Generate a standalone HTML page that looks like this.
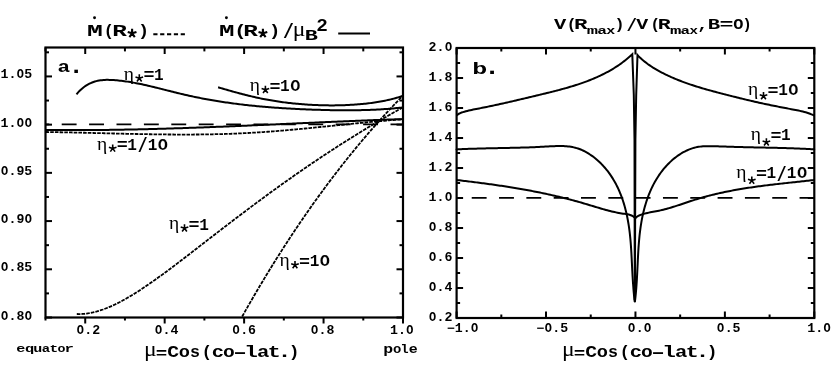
<!DOCTYPE html>
<html><head><meta charset="utf-8"><title>chart</title>
<style>
html,body{margin:0;padding:0;background:#fff;}
body{width:831px;height:370px;overflow:hidden;font-family:"Liberation Mono",monospace;}
svg{display:block;filter:grayscale(1);}
text{fill:#000;}
</style></head><body>
<svg width="831" height="370" viewBox="0 0 831 370">
<rect x="0" y="0" width="831" height="370" fill="#fff"/>
<rect x="45.5" y="47.5" width="357.5" height="270.0" fill="none" stroke="#000" stroke-width="2.2"/>
<line x1="45.50" y1="317.50" x2="52.00" y2="317.50" stroke="#000" stroke-width="2.0" />
<line x1="403.00" y1="317.50" x2="396.50" y2="317.50" stroke="#000" stroke-width="2.0" />
<line x1="45.50" y1="293.39" x2="49.00" y2="293.39" stroke="#000" stroke-width="2.0" />
<line x1="403.00" y1="293.39" x2="399.50" y2="293.39" stroke="#000" stroke-width="2.0" />
<line x1="45.50" y1="269.29" x2="52.00" y2="269.29" stroke="#000" stroke-width="2.0" />
<line x1="403.00" y1="269.29" x2="396.50" y2="269.29" stroke="#000" stroke-width="2.0" />
<line x1="45.50" y1="245.18" x2="49.00" y2="245.18" stroke="#000" stroke-width="2.0" />
<line x1="403.00" y1="245.18" x2="399.50" y2="245.18" stroke="#000" stroke-width="2.0" />
<line x1="45.50" y1="221.07" x2="52.00" y2="221.07" stroke="#000" stroke-width="2.0" />
<line x1="403.00" y1="221.07" x2="396.50" y2="221.07" stroke="#000" stroke-width="2.0" />
<line x1="45.50" y1="196.96" x2="49.00" y2="196.96" stroke="#000" stroke-width="2.0" />
<line x1="403.00" y1="196.96" x2="399.50" y2="196.96" stroke="#000" stroke-width="2.0" />
<line x1="45.50" y1="172.86" x2="52.00" y2="172.86" stroke="#000" stroke-width="2.0" />
<line x1="403.00" y1="172.86" x2="396.50" y2="172.86" stroke="#000" stroke-width="2.0" />
<line x1="45.50" y1="148.75" x2="49.00" y2="148.75" stroke="#000" stroke-width="2.0" />
<line x1="403.00" y1="148.75" x2="399.50" y2="148.75" stroke="#000" stroke-width="2.0" />
<line x1="45.50" y1="124.64" x2="52.00" y2="124.64" stroke="#000" stroke-width="2.0" />
<line x1="403.00" y1="124.64" x2="396.50" y2="124.64" stroke="#000" stroke-width="2.0" />
<line x1="45.50" y1="100.54" x2="49.00" y2="100.54" stroke="#000" stroke-width="2.0" />
<line x1="403.00" y1="100.54" x2="399.50" y2="100.54" stroke="#000" stroke-width="2.0" />
<line x1="45.50" y1="76.43" x2="52.00" y2="76.43" stroke="#000" stroke-width="2.0" />
<line x1="403.00" y1="76.43" x2="396.50" y2="76.43" stroke="#000" stroke-width="2.0" />
<line x1="45.50" y1="52.32" x2="49.00" y2="52.32" stroke="#000" stroke-width="2.0" />
<line x1="403.00" y1="52.32" x2="399.50" y2="52.32" stroke="#000" stroke-width="2.0" />
<line x1="45.50" y1="317.50" x2="45.50" y2="320.50" stroke="#000" stroke-width="2.0" />
<line x1="45.50" y1="47.50" x2="45.50" y2="51.40" stroke="#000" stroke-width="2.0" />
<line x1="85.22" y1="317.50" x2="85.22" y2="323.50" stroke="#000" stroke-width="2.0" />
<line x1="85.22" y1="47.50" x2="85.22" y2="54.00" stroke="#000" stroke-width="2.0" />
<line x1="124.94" y1="317.50" x2="124.94" y2="320.50" stroke="#000" stroke-width="2.0" />
<line x1="124.94" y1="47.50" x2="124.94" y2="51.40" stroke="#000" stroke-width="2.0" />
<line x1="164.67" y1="317.50" x2="164.67" y2="323.50" stroke="#000" stroke-width="2.0" />
<line x1="164.67" y1="47.50" x2="164.67" y2="54.00" stroke="#000" stroke-width="2.0" />
<line x1="204.39" y1="317.50" x2="204.39" y2="320.50" stroke="#000" stroke-width="2.0" />
<line x1="204.39" y1="47.50" x2="204.39" y2="51.40" stroke="#000" stroke-width="2.0" />
<line x1="244.11" y1="317.50" x2="244.11" y2="323.50" stroke="#000" stroke-width="2.0" />
<line x1="244.11" y1="47.50" x2="244.11" y2="54.00" stroke="#000" stroke-width="2.0" />
<line x1="283.83" y1="317.50" x2="283.83" y2="320.50" stroke="#000" stroke-width="2.0" />
<line x1="283.83" y1="47.50" x2="283.83" y2="51.40" stroke="#000" stroke-width="2.0" />
<line x1="323.56" y1="317.50" x2="323.56" y2="323.50" stroke="#000" stroke-width="2.0" />
<line x1="323.56" y1="47.50" x2="323.56" y2="54.00" stroke="#000" stroke-width="2.0" />
<line x1="363.28" y1="317.50" x2="363.28" y2="320.50" stroke="#000" stroke-width="2.0" />
<line x1="363.28" y1="47.50" x2="363.28" y2="51.40" stroke="#000" stroke-width="2.0" />
<line x1="403.00" y1="317.50" x2="403.00" y2="323.50" stroke="#000" stroke-width="2.0" />
<line x1="403.00" y1="47.50" x2="403.00" y2="54.00" stroke="#000" stroke-width="2.0" />
<rect x="456.6" y="48.0" width="357.69999999999993" height="270.0" fill="none" stroke="#000" stroke-width="2.2"/>
<line x1="456.60" y1="318.00" x2="463.10" y2="318.00" stroke="#000" stroke-width="2.0" />
<line x1="814.30" y1="318.00" x2="807.80" y2="318.00" stroke="#000" stroke-width="2.0" />
<line x1="456.60" y1="303.00" x2="460.10" y2="303.00" stroke="#000" stroke-width="2.0" />
<line x1="814.30" y1="303.00" x2="810.80" y2="303.00" stroke="#000" stroke-width="2.0" />
<line x1="456.60" y1="288.00" x2="463.10" y2="288.00" stroke="#000" stroke-width="2.0" />
<line x1="814.30" y1="288.00" x2="807.80" y2="288.00" stroke="#000" stroke-width="2.0" />
<line x1="456.60" y1="273.00" x2="460.10" y2="273.00" stroke="#000" stroke-width="2.0" />
<line x1="814.30" y1="273.00" x2="810.80" y2="273.00" stroke="#000" stroke-width="2.0" />
<line x1="456.60" y1="258.00" x2="463.10" y2="258.00" stroke="#000" stroke-width="2.0" />
<line x1="814.30" y1="258.00" x2="807.80" y2="258.00" stroke="#000" stroke-width="2.0" />
<line x1="456.60" y1="243.00" x2="460.10" y2="243.00" stroke="#000" stroke-width="2.0" />
<line x1="814.30" y1="243.00" x2="810.80" y2="243.00" stroke="#000" stroke-width="2.0" />
<line x1="456.60" y1="228.00" x2="463.10" y2="228.00" stroke="#000" stroke-width="2.0" />
<line x1="814.30" y1="228.00" x2="807.80" y2="228.00" stroke="#000" stroke-width="2.0" />
<line x1="456.60" y1="213.00" x2="460.10" y2="213.00" stroke="#000" stroke-width="2.0" />
<line x1="814.30" y1="213.00" x2="810.80" y2="213.00" stroke="#000" stroke-width="2.0" />
<line x1="456.60" y1="198.00" x2="463.10" y2="198.00" stroke="#000" stroke-width="2.0" />
<line x1="814.30" y1="198.00" x2="807.80" y2="198.00" stroke="#000" stroke-width="2.0" />
<line x1="456.60" y1="183.00" x2="460.10" y2="183.00" stroke="#000" stroke-width="2.0" />
<line x1="814.30" y1="183.00" x2="810.80" y2="183.00" stroke="#000" stroke-width="2.0" />
<line x1="456.60" y1="168.00" x2="463.10" y2="168.00" stroke="#000" stroke-width="2.0" />
<line x1="814.30" y1="168.00" x2="807.80" y2="168.00" stroke="#000" stroke-width="2.0" />
<line x1="456.60" y1="153.00" x2="460.10" y2="153.00" stroke="#000" stroke-width="2.0" />
<line x1="814.30" y1="153.00" x2="810.80" y2="153.00" stroke="#000" stroke-width="2.0" />
<line x1="456.60" y1="138.00" x2="463.10" y2="138.00" stroke="#000" stroke-width="2.0" />
<line x1="814.30" y1="138.00" x2="807.80" y2="138.00" stroke="#000" stroke-width="2.0" />
<line x1="456.60" y1="123.00" x2="460.10" y2="123.00" stroke="#000" stroke-width="2.0" />
<line x1="814.30" y1="123.00" x2="810.80" y2="123.00" stroke="#000" stroke-width="2.0" />
<line x1="456.60" y1="108.00" x2="463.10" y2="108.00" stroke="#000" stroke-width="2.0" />
<line x1="814.30" y1="108.00" x2="807.80" y2="108.00" stroke="#000" stroke-width="2.0" />
<line x1="456.60" y1="93.00" x2="460.10" y2="93.00" stroke="#000" stroke-width="2.0" />
<line x1="814.30" y1="93.00" x2="810.80" y2="93.00" stroke="#000" stroke-width="2.0" />
<line x1="456.60" y1="78.00" x2="463.10" y2="78.00" stroke="#000" stroke-width="2.0" />
<line x1="814.30" y1="78.00" x2="807.80" y2="78.00" stroke="#000" stroke-width="2.0" />
<line x1="456.60" y1="63.00" x2="460.10" y2="63.00" stroke="#000" stroke-width="2.0" />
<line x1="814.30" y1="63.00" x2="810.80" y2="63.00" stroke="#000" stroke-width="2.0" />
<line x1="456.60" y1="48.00" x2="463.10" y2="48.00" stroke="#000" stroke-width="2.0" />
<line x1="814.30" y1="48.00" x2="807.80" y2="48.00" stroke="#000" stroke-width="2.0" />
<line x1="456.60" y1="318.00" x2="456.60" y2="311.50" stroke="#000" stroke-width="2.0" />
<line x1="456.60" y1="48.00" x2="456.60" y2="54.50" stroke="#000" stroke-width="2.0" />
<line x1="501.31" y1="318.00" x2="501.31" y2="314.50" stroke="#000" stroke-width="2.0" />
<line x1="501.31" y1="48.00" x2="501.31" y2="51.50" stroke="#000" stroke-width="2.0" />
<line x1="546.02" y1="318.00" x2="546.02" y2="311.50" stroke="#000" stroke-width="2.0" />
<line x1="546.02" y1="48.00" x2="546.02" y2="54.50" stroke="#000" stroke-width="2.0" />
<line x1="590.74" y1="318.00" x2="590.74" y2="314.50" stroke="#000" stroke-width="2.0" />
<line x1="590.74" y1="48.00" x2="590.74" y2="51.50" stroke="#000" stroke-width="2.0" />
<line x1="635.45" y1="318.00" x2="635.45" y2="311.50" stroke="#000" stroke-width="2.0" />
<line x1="635.45" y1="48.00" x2="635.45" y2="54.50" stroke="#000" stroke-width="2.0" />
<line x1="680.16" y1="318.00" x2="680.16" y2="314.50" stroke="#000" stroke-width="2.0" />
<line x1="680.16" y1="48.00" x2="680.16" y2="51.50" stroke="#000" stroke-width="2.0" />
<line x1="724.88" y1="318.00" x2="724.88" y2="311.50" stroke="#000" stroke-width="2.0" />
<line x1="724.88" y1="48.00" x2="724.88" y2="54.50" stroke="#000" stroke-width="2.0" />
<line x1="769.59" y1="318.00" x2="769.59" y2="314.50" stroke="#000" stroke-width="2.0" />
<line x1="769.59" y1="48.00" x2="769.59" y2="51.50" stroke="#000" stroke-width="2.0" />
<line x1="814.30" y1="318.00" x2="814.30" y2="311.50" stroke="#000" stroke-width="2.0" />
<line x1="814.30" y1="48.00" x2="814.30" y2="54.50" stroke="#000" stroke-width="2.0" />
<text transform="translate(0.50,78.43) scale(1.104,1)" font-family='"Liberation Mono", monospace' font-size="12" font-weight="bold">1</text>
<text transform="translate(8.45,78.43) scale(1.104,1)" font-family='"Liberation Mono", monospace' font-size="12" font-weight="bold">.</text>
<text transform="translate(16.80,78.43) scale(0.994,1)" font-family='"Liberation Mono", monospace' font-size="12" font-weight="bold">O</text>
<text transform="translate(24.35,78.43) scale(1.104,1)" font-family='"Liberation Mono", monospace' font-size="12" font-weight="bold">5</text>
<text transform="translate(0.50,126.64) scale(1.104,1)" font-family='"Liberation Mono", monospace' font-size="12" font-weight="bold">1</text>
<text transform="translate(8.45,126.64) scale(1.104,1)" font-family='"Liberation Mono", monospace' font-size="12" font-weight="bold">.</text>
<text transform="translate(16.80,126.64) scale(0.994,1)" font-family='"Liberation Mono", monospace' font-size="12" font-weight="bold">O</text>
<text transform="translate(24.75,126.64) scale(0.994,1)" font-family='"Liberation Mono", monospace' font-size="12" font-weight="bold">O</text>
<text transform="translate(0.90,174.86) scale(0.994,1)" font-family='"Liberation Mono", monospace' font-size="12" font-weight="bold">O</text>
<text transform="translate(8.45,174.86) scale(1.104,1)" font-family='"Liberation Mono", monospace' font-size="12" font-weight="bold">.</text>
<text transform="translate(16.40,174.86) scale(1.104,1)" font-family='"Liberation Mono", monospace' font-size="12" font-weight="bold">9</text>
<text transform="translate(24.35,174.86) scale(1.104,1)" font-family='"Liberation Mono", monospace' font-size="12" font-weight="bold">5</text>
<text transform="translate(0.90,223.07) scale(0.994,1)" font-family='"Liberation Mono", monospace' font-size="12" font-weight="bold">O</text>
<text transform="translate(8.45,223.07) scale(1.104,1)" font-family='"Liberation Mono", monospace' font-size="12" font-weight="bold">.</text>
<text transform="translate(16.40,223.07) scale(1.104,1)" font-family='"Liberation Mono", monospace' font-size="12" font-weight="bold">9</text>
<text transform="translate(24.75,223.07) scale(0.994,1)" font-family='"Liberation Mono", monospace' font-size="12" font-weight="bold">O</text>
<text transform="translate(0.90,271.29) scale(0.994,1)" font-family='"Liberation Mono", monospace' font-size="12" font-weight="bold">O</text>
<text transform="translate(8.45,271.29) scale(1.104,1)" font-family='"Liberation Mono", monospace' font-size="12" font-weight="bold">.</text>
<text transform="translate(16.40,271.29) scale(1.104,1)" font-family='"Liberation Mono", monospace' font-size="12" font-weight="bold">8</text>
<text transform="translate(24.35,271.29) scale(1.104,1)" font-family='"Liberation Mono", monospace' font-size="12" font-weight="bold">5</text>
<text transform="translate(0.90,319.50) scale(0.994,1)" font-family='"Liberation Mono", monospace' font-size="12" font-weight="bold">O</text>
<text transform="translate(8.45,319.50) scale(1.104,1)" font-family='"Liberation Mono", monospace' font-size="12" font-weight="bold">.</text>
<text transform="translate(16.40,319.50) scale(1.104,1)" font-family='"Liberation Mono", monospace' font-size="12" font-weight="bold">8</text>
<text transform="translate(24.75,319.50) scale(0.994,1)" font-family='"Liberation Mono", monospace' font-size="12" font-weight="bold">O</text>
<text transform="translate(76.80,334.20) scale(0.994,1)" font-family='"Liberation Mono", monospace' font-size="12" font-weight="bold">O</text>
<text transform="translate(84.35,334.20) scale(1.104,1)" font-family='"Liberation Mono", monospace' font-size="12" font-weight="bold">.</text>
<text transform="translate(92.30,334.20) scale(1.104,1)" font-family='"Liberation Mono", monospace' font-size="12" font-weight="bold">2</text>
<text transform="translate(155.00,334.20) scale(0.994,1)" font-family='"Liberation Mono", monospace' font-size="12" font-weight="bold">O</text>
<text transform="translate(162.55,334.20) scale(1.104,1)" font-family='"Liberation Mono", monospace' font-size="12" font-weight="bold">.</text>
<text transform="translate(170.50,334.20) scale(1.104,1)" font-family='"Liberation Mono", monospace' font-size="12" font-weight="bold">4</text>
<text transform="translate(232.60,334.20) scale(0.994,1)" font-family='"Liberation Mono", monospace' font-size="12" font-weight="bold">O</text>
<text transform="translate(240.15,334.20) scale(1.104,1)" font-family='"Liberation Mono", monospace' font-size="12" font-weight="bold">.</text>
<text transform="translate(248.10,334.20) scale(1.104,1)" font-family='"Liberation Mono", monospace' font-size="12" font-weight="bold">6</text>
<text transform="translate(311.00,334.20) scale(0.994,1)" font-family='"Liberation Mono", monospace' font-size="12" font-weight="bold">O</text>
<text transform="translate(318.55,334.20) scale(1.104,1)" font-family='"Liberation Mono", monospace' font-size="12" font-weight="bold">.</text>
<text transform="translate(326.50,334.20) scale(1.104,1)" font-family='"Liberation Mono", monospace' font-size="12" font-weight="bold">8</text>
<text transform="translate(390.00,334.20) scale(1.104,1)" font-family='"Liberation Mono", monospace' font-size="12" font-weight="bold">1</text>
<text transform="translate(397.95,334.20) scale(1.104,1)" font-family='"Liberation Mono", monospace' font-size="12" font-weight="bold">.</text>
<text transform="translate(406.30,334.20) scale(0.994,1)" font-family='"Liberation Mono", monospace' font-size="12" font-weight="bold">O</text>
<text transform="translate(428.60,51.00) scale(1.104,1)" font-family='"Liberation Mono", monospace' font-size="12" font-weight="bold">2</text>
<text transform="translate(436.55,51.00) scale(1.104,1)" font-family='"Liberation Mono", monospace' font-size="12" font-weight="bold">.</text>
<text transform="translate(444.90,51.00) scale(0.994,1)" font-family='"Liberation Mono", monospace' font-size="12" font-weight="bold">O</text>
<text transform="translate(428.60,81.00) scale(1.104,1)" font-family='"Liberation Mono", monospace' font-size="12" font-weight="bold" text-anchor="start">1.8</text>
<text transform="translate(428.60,111.00) scale(1.104,1)" font-family='"Liberation Mono", monospace' font-size="12" font-weight="bold" text-anchor="start">1.6</text>
<text transform="translate(428.60,141.00) scale(1.104,1)" font-family='"Liberation Mono", monospace' font-size="12" font-weight="bold" text-anchor="start">1.4</text>
<text transform="translate(428.60,171.00) scale(1.104,1)" font-family='"Liberation Mono", monospace' font-size="12" font-weight="bold" text-anchor="start">1.2</text>
<text transform="translate(428.60,201.00) scale(1.104,1)" font-family='"Liberation Mono", monospace' font-size="12" font-weight="bold">1</text>
<text transform="translate(436.55,201.00) scale(1.104,1)" font-family='"Liberation Mono", monospace' font-size="12" font-weight="bold">.</text>
<text transform="translate(444.90,201.00) scale(0.994,1)" font-family='"Liberation Mono", monospace' font-size="12" font-weight="bold">O</text>
<text transform="translate(429.00,231.00) scale(0.994,1)" font-family='"Liberation Mono", monospace' font-size="12" font-weight="bold">O</text>
<text transform="translate(436.55,231.00) scale(1.104,1)" font-family='"Liberation Mono", monospace' font-size="12" font-weight="bold">.</text>
<text transform="translate(444.50,231.00) scale(1.104,1)" font-family='"Liberation Mono", monospace' font-size="12" font-weight="bold">8</text>
<text transform="translate(429.00,261.00) scale(0.994,1)" font-family='"Liberation Mono", monospace' font-size="12" font-weight="bold">O</text>
<text transform="translate(436.55,261.00) scale(1.104,1)" font-family='"Liberation Mono", monospace' font-size="12" font-weight="bold">.</text>
<text transform="translate(444.50,261.00) scale(1.104,1)" font-family='"Liberation Mono", monospace' font-size="12" font-weight="bold">6</text>
<text transform="translate(429.00,291.00) scale(0.994,1)" font-family='"Liberation Mono", monospace' font-size="12" font-weight="bold">O</text>
<text transform="translate(436.55,291.00) scale(1.104,1)" font-family='"Liberation Mono", monospace' font-size="12" font-weight="bold">.</text>
<text transform="translate(444.50,291.00) scale(1.104,1)" font-family='"Liberation Mono", monospace' font-size="12" font-weight="bold">4</text>
<text transform="translate(429.00,321.00) scale(0.994,1)" font-family='"Liberation Mono", monospace' font-size="12" font-weight="bold">O</text>
<text transform="translate(436.55,321.00) scale(1.104,1)" font-family='"Liberation Mono", monospace' font-size="12" font-weight="bold">.</text>
<text transform="translate(444.50,321.00) scale(1.104,1)" font-family='"Liberation Mono", monospace' font-size="12" font-weight="bold">2</text>
<text transform="translate(446.80,332.20) scale(1.104,1)" font-family='"Liberation Mono", monospace' font-size="12" font-weight="bold">−</text>
<text transform="translate(454.75,332.20) scale(1.104,1)" font-family='"Liberation Mono", monospace' font-size="12" font-weight="bold">1</text>
<text transform="translate(462.70,332.20) scale(1.104,1)" font-family='"Liberation Mono", monospace' font-size="12" font-weight="bold">.</text>
<text transform="translate(471.05,332.20) scale(0.994,1)" font-family='"Liberation Mono", monospace' font-size="12" font-weight="bold">O</text>
<text transform="translate(536.30,332.20) scale(1.104,1)" font-family='"Liberation Mono", monospace' font-size="12" font-weight="bold">−</text>
<text transform="translate(544.65,332.20) scale(0.994,1)" font-family='"Liberation Mono", monospace' font-size="12" font-weight="bold">O</text>
<text transform="translate(552.20,332.20) scale(1.104,1)" font-family='"Liberation Mono", monospace' font-size="12" font-weight="bold">.</text>
<text transform="translate(560.15,332.20) scale(1.104,1)" font-family='"Liberation Mono", monospace' font-size="12" font-weight="bold">5</text>
<text transform="translate(628.10,332.20) scale(0.994,1)" font-family='"Liberation Mono", monospace' font-size="12" font-weight="bold">O</text>
<text transform="translate(635.65,332.20) scale(1.104,1)" font-family='"Liberation Mono", monospace' font-size="12" font-weight="bold">.</text>
<text transform="translate(644.00,332.20) scale(0.994,1)" font-family='"Liberation Mono", monospace' font-size="12" font-weight="bold">O</text>
<text transform="translate(717.10,332.20) scale(0.994,1)" font-family='"Liberation Mono", monospace' font-size="12" font-weight="bold">O</text>
<text transform="translate(724.65,332.20) scale(1.104,1)" font-family='"Liberation Mono", monospace' font-size="12" font-weight="bold">.</text>
<text transform="translate(732.60,332.20) scale(1.104,1)" font-family='"Liberation Mono", monospace' font-size="12" font-weight="bold">5</text>
<text transform="translate(807.20,332.20) scale(1.104,1)" font-family='"Liberation Mono", monospace' font-size="12" font-weight="bold">1</text>
<text transform="translate(815.15,332.20) scale(1.104,1)" font-family='"Liberation Mono", monospace' font-size="12" font-weight="bold">.</text>
<text transform="translate(823.50,332.20) scale(0.994,1)" font-family='"Liberation Mono", monospace' font-size="12" font-weight="bold">O</text>
<text transform="translate(143.88,356.40) scale(1.183,1.0)" font-family='"Liberation Serif", serif' font-size="20" font-weight="normal">μ</text>
<text transform="translate(155.66,358.13) scale(0.957,0.714)" font-family='"Liberation Mono", monospace' font-size="20.0" font-weight="bold">=</text>
<text transform="translate(167.23,356.70) scale(1.231,1.0)" font-family='"Liberation Mono", monospace' font-size="16.0" font-weight="bold">C</text>
<text transform="translate(178.76,356.70) scale(1.164,1.0)" font-family='"Liberation Mono", monospace' font-size="16.0" font-weight="bold">o</text>
<text transform="translate(190.02,356.70) scale(1.042,1.0)" font-family='"Liberation Mono", monospace' font-size="16.0" font-weight="bold">s</text>
<text transform="translate(201.84,356.70) scale(1.063,1.0)" font-family='"Liberation Mono", monospace' font-size="16.0" font-weight="bold">(</text>
<text transform="translate(211.80,356.70) scale(1.281,1.0)" font-family='"Liberation Mono", monospace' font-size="16.0" font-weight="bold">c</text>
<text transform="translate(223.12,356.70) scale(1.225,1.0)" font-family='"Liberation Mono", monospace' font-size="16.0" font-weight="bold">o</text>
<text transform="translate(233.21,357.91) scale(1.133,0.958)" font-family='"Liberation Mono", monospace' font-size="20.0" font-weight="bold">–</text>
<text transform="translate(244.14,356.70) scale(1.413,1.0)" font-family='"Liberation Mono", monospace' font-size="16.0" font-weight="bold">l</text>
<text transform="translate(256.93,356.70) scale(1.290,1.0)" font-family='"Liberation Mono", monospace' font-size="16.0" font-weight="bold">a</text>
<text transform="translate(267.71,356.70) scale(1.347,1.0)" font-family='"Liberation Mono", monospace' font-size="16.0" font-weight="bold">t</text>
<text transform="translate(277.43,356.70) scale(1.462,1.0)" font-family='"Liberation Mono", monospace' font-size="16.0" font-weight="bold">.</text>
<text transform="translate(288.74,356.70) scale(1.107,1.0)" font-family='"Liberation Mono", monospace' font-size="16.0" font-weight="bold">)</text>
<text transform="translate(561.88,356.40) scale(1.183,1.0)" font-family='"Liberation Serif", serif' font-size="20" font-weight="normal">μ</text>
<text transform="translate(573.66,358.13) scale(0.957,0.714)" font-family='"Liberation Mono", monospace' font-size="20.0" font-weight="bold">=</text>
<text transform="translate(585.23,356.70) scale(1.231,1.0)" font-family='"Liberation Mono", monospace' font-size="16.0" font-weight="bold">C</text>
<text transform="translate(596.76,356.70) scale(1.164,1.0)" font-family='"Liberation Mono", monospace' font-size="16.0" font-weight="bold">o</text>
<text transform="translate(608.02,356.70) scale(1.042,1.0)" font-family='"Liberation Mono", monospace' font-size="16.0" font-weight="bold">s</text>
<text transform="translate(619.84,356.70) scale(1.063,1.0)" font-family='"Liberation Mono", monospace' font-size="16.0" font-weight="bold">(</text>
<text transform="translate(629.80,356.70) scale(1.281,1.0)" font-family='"Liberation Mono", monospace' font-size="16.0" font-weight="bold">c</text>
<text transform="translate(641.12,356.70) scale(1.225,1.0)" font-family='"Liberation Mono", monospace' font-size="16.0" font-weight="bold">o</text>
<text transform="translate(651.21,357.91) scale(1.133,0.958)" font-family='"Liberation Mono", monospace' font-size="20.0" font-weight="bold">–</text>
<text transform="translate(662.14,356.70) scale(1.413,1.0)" font-family='"Liberation Mono", monospace' font-size="16.0" font-weight="bold">l</text>
<text transform="translate(674.93,356.70) scale(1.290,1.0)" font-family='"Liberation Mono", monospace' font-size="16.0" font-weight="bold">a</text>
<text transform="translate(685.71,356.70) scale(1.347,1.0)" font-family='"Liberation Mono", monospace' font-size="16.0" font-weight="bold">t</text>
<text transform="translate(695.43,356.70) scale(1.462,1.0)" font-family='"Liberation Mono", monospace' font-size="16.0" font-weight="bold">.</text>
<text transform="translate(706.74,356.70) scale(1.107,1.0)" font-family='"Liberation Mono", monospace' font-size="16.0" font-weight="bold">)</text>
<text transform="translate(16.26,351.80) scale(1.293,1.0)" font-family='"Liberation Mono", monospace' font-size="11.7" font-weight="bold">e</text>
<text transform="translate(25.07,351.80) scale(1.323,1.0)" font-family='"Liberation Mono", monospace' font-size="11.7" font-weight="bold">q</text>
<text transform="translate(33.20,351.80) scale(1.291,1.0)" font-family='"Liberation Mono", monospace' font-size="11.7" font-weight="bold">u</text>
<text transform="translate(41.78,351.80) scale(1.192,1.0)" font-family='"Liberation Mono", monospace' font-size="11.7" font-weight="bold">a</text>
<text transform="translate(49.46,351.80) scale(1.242,1.0)" font-family='"Liberation Mono", monospace' font-size="11.7" font-weight="bold">t</text>
<text transform="translate(57.40,351.80) scale(1.139,1.0)" font-family='"Liberation Mono", monospace' font-size="11.7" font-weight="bold">o</text>
<text transform="translate(64.48,351.80) scale(1.348,1.0)" font-family='"Liberation Mono", monospace' font-size="11.7" font-weight="bold">r</text>
<text transform="translate(383.27,353.00) scale(1.354,1.0)" font-family='"Liberation Mono", monospace' font-size="12.2" font-weight="bold">p</text>
<text transform="translate(392.97,353.00) scale(1.141,1.0)" font-family='"Liberation Mono", monospace' font-size="12.2" font-weight="bold">o</text>
<text transform="translate(400.53,353.00) scale(1.108,1.0)" font-family='"Liberation Mono", monospace' font-size="12.2" font-weight="bold">l</text>
<text transform="translate(408.67,353.00) scale(1.224,1.0)" font-family='"Liberation Mono", monospace' font-size="12.2" font-weight="bold">e</text>
<text transform="translate(87.02,35.90) scale(1.527,1.0)" font-family='"Liberation Mono", monospace' font-size="17.3" font-weight="bold">M</text>
<circle cx="94.55" cy="17.7" r="1.45" fill="#000"/>
<text transform="translate(103.64,35.90) scale(0.983,1.0)" font-family='"Liberation Mono", monospace' font-size="17.3" font-weight="bold">(</text>
<text transform="translate(112.27,35.90) scale(1.412,1.0)" font-family='"Liberation Mono", monospace' font-size="17.3" font-weight="bold">R</text>
<path d="M132.10,33.30 L132.10,28.70 M132.10,33.30 L136.47,31.88 M132.10,33.30 L134.80,37.02 M132.10,33.30 L129.40,37.02 M132.10,33.30 L127.73,31.88 " fill="none" stroke="#000" stroke-width="2.1" stroke-linecap="butt"/>
<text transform="translate(137.94,35.90) scale(1.065,1.0)" font-family='"Liberation Mono", monospace' font-size="17.3" font-weight="bold">)</text>
<line x1="153.30" y1="34.20" x2="184.90" y2="34.20" stroke="#000" stroke-width="2.1" stroke-dasharray="4.2 2.65" />
<text transform="translate(219.05,35.90) scale(1.493,1.0)" font-family='"Liberation Mono", monospace' font-size="17.3" font-weight="bold">M</text>
<circle cx="226.40" cy="17.7" r="1.45" fill="#000"/>
<text transform="translate(234.15,35.90) scale(1.188,1.0)" font-family='"Liberation Mono", monospace' font-size="17.3" font-weight="bold">(</text>
<text transform="translate(243.17,35.90) scale(1.412,1.0)" font-family='"Liberation Mono", monospace' font-size="17.3" font-weight="bold">R</text>
<path d="M262.90,33.30 L262.90,28.70 M262.90,33.30 L267.27,31.88 M262.90,33.30 L265.60,37.02 M262.90,33.30 L260.20,37.02 M262.90,33.30 L258.53,31.88 " fill="none" stroke="#000" stroke-width="2.1" stroke-linecap="butt"/>
<text transform="translate(268.98,35.90) scale(1.086,1.0)" font-family='"Liberation Mono", monospace' font-size="17.3" font-weight="bold">)</text>
<text transform="translate(282.91,38.10) scale(0.908,1.042)" font-family='"Liberation Mono", monospace' font-size="20.0" font-weight="bold">/</text>
<text transform="translate(292.78,35.90) scale(1.155,1.0)" font-family='"Liberation Serif", serif' font-size="20.5" font-weight="normal">μ</text>
<text transform="translate(304.74,40.20) scale(1.498,1.0)" font-family='"Liberation Mono", monospace' font-size="14.6" font-weight="bold">B</text>
<text transform="translate(316.63,30.50) scale(1.207,1.0)" font-family='"Liberation Sans", sans-serif' font-size="16" font-weight="bold">2</text>
<line x1="338.20" y1="33.50" x2="370.00" y2="33.50" stroke="#000" stroke-width="2.0" />
<text transform="translate(553.97,28.50) scale(1.361,1.0)" font-family='"Liberation Mono", monospace' font-size="15.0" font-weight="bold">V</text>
<text transform="translate(566.76,28.50) scale(1.087,1.0)" font-family='"Liberation Mono", monospace' font-size="15.0" font-weight="bold">(</text>
<text transform="translate(573.89,28.50) scale(1.503,1.0)" font-family='"Liberation Mono", monospace' font-size="15.0" font-weight="bold">R</text>
<text transform="translate(614.60,28.50) scale(1.110,1.0)" font-family='"Liberation Mono", monospace' font-size="15.0" font-weight="bold">)</text>
<text transform="translate(636.27,28.50) scale(1.327,1.0)" font-family='"Liberation Mono", monospace' font-size="15.0" font-weight="bold">V</text>
<text transform="translate(650.52,28.50) scale(1.063,1.0)" font-family='"Liberation Mono", monospace' font-size="15.0" font-weight="bold">(</text>
<text transform="translate(657.85,28.50) scale(1.440,1.0)" font-family='"Liberation Mono", monospace' font-size="15.0" font-weight="bold">R</text>
<text transform="translate(697.21,28.50) scale(1.213,1.0)" font-family='"Liberation Mono", monospace' font-size="15.0" font-weight="bold">,</text>
<text transform="translate(707.82,28.50) scale(1.380,1.0)" font-family='"Liberation Mono", monospace' font-size="15.0" font-weight="bold">B</text>
<text transform="translate(719.55,28.50) scale(1.555,1.0)" font-family='"Liberation Mono", monospace' font-size="15.0" font-weight="bold">=</text>
<text transform="translate(733.30,28.50) scale(1.133,1.0)" font-family='"Liberation Mono", monospace' font-size="15.0" font-weight="bold">O</text>
<text transform="translate(742.62,28.50) scale(1.016,1.0)" font-family='"Liberation Mono", monospace' font-size="15.0" font-weight="bold">)</text>
<text transform="translate(626.44,31.02) scale(0.879,0.946)" font-family='"Liberation Mono", monospace' font-size="20.0" font-weight="bold">/</text>
<text transform="translate(586.66,33.60) scale(1.600,1.0)" font-family='"Liberation Mono", monospace' font-size="11.8" font-weight="bold">m</text>
<text transform="translate(597.16,33.60) scale(1.376,1.0)" font-family='"Liberation Mono", monospace' font-size="11.8" font-weight="bold">a</text>
<text transform="translate(606.34,33.60) scale(1.275,1.0)" font-family='"Liberation Mono", monospace' font-size="11.8" font-weight="bold">x</text>
<text transform="translate(669.96,33.60) scale(1.616,1.0)" font-family='"Liberation Mono", monospace' font-size="11.8" font-weight="bold">m</text>
<text transform="translate(680.58,33.60) scale(1.344,1.0)" font-family='"Liberation Mono", monospace' font-size="11.8" font-weight="bold">a</text>
<text transform="translate(689.56,33.60) scale(1.198,1.0)" font-family='"Liberation Mono", monospace' font-size="11.8" font-weight="bold">x</text>
<text transform="translate(57.51,72.34) scale(1.051,0.821)" font-family='"Liberation Mono", monospace' font-size="20.0" font-weight="bold">a</text>
<text transform="translate(68.55,73.30) scale(1.276,1.142)" font-family='"Liberation Mono", monospace' font-size="20.0" font-weight="bold">.</text>
<text transform="translate(472.19,74.34) scale(1.249,0.831)" font-family='"Liberation Mono", monospace' font-size="20.0" font-weight="bold">b</text>
<text transform="translate(484.02,74.40) scale(1.346,1.142)" font-family='"Liberation Mono", monospace' font-size="20.0" font-weight="bold">.</text>
<text transform="translate(123.69,79.50) scale(1.035,1)" font-family='"Liberation Serif", serif' font-size="18.89">η</text>
<path d="M139.30,78.30 L139.30,74.30 M139.30,78.30 L143.10,77.06 M139.30,78.30 L141.65,81.54 M139.30,78.30 L136.95,81.54 M139.30,78.30 L135.50,77.06 " fill="none" stroke="#000" stroke-width="1.6" stroke-linecap="butt"/>
<text transform="translate(143.40,80.16) scale(0.917,0.794)" font-family='"Liberation Mono", monospace' font-size="20.0" font-weight="bold">=</text>
<text transform="translate(153.96,79.60) scale(0.806,0.805)" font-family='"Liberation Mono", monospace' font-size="20.0" font-weight="bold" stroke="#fff" stroke-width="0.07">1</text>
<text transform="translate(249.79,91.00) scale(1.035,1)" font-family='"Liberation Serif", serif' font-size="18.89">η</text>
<path d="M265.40,89.80 L265.40,85.80 M265.40,89.80 L269.20,88.56 M265.40,89.80 L267.75,93.04 M265.40,89.80 L263.05,93.04 M265.40,89.80 L261.60,88.56 " fill="none" stroke="#000" stroke-width="1.6" stroke-linecap="butt"/>
<text transform="translate(269.50,91.66) scale(0.917,0.794)" font-family='"Liberation Mono", monospace' font-size="20.0" font-weight="bold">=</text>
<text transform="translate(280.06,91.10) scale(0.806,0.805)" font-family='"Liberation Mono", monospace' font-size="20.0" font-weight="bold" stroke="#fff" stroke-width="0.07">1</text>
<text transform="translate(290.20,91.14) scale(0.849,0.810)" font-family='"Liberation Mono", monospace' font-size="20.0" font-weight="bold" stroke="#fff" stroke-width="0.12">O</text>
<text transform="translate(97.09,149.60) scale(1.035,1)" font-family='"Liberation Serif", serif' font-size="18.89">η</text>
<path d="M112.70,148.40 L112.70,144.40 M112.70,148.40 L116.50,147.16 M112.70,148.40 L115.05,151.64 M112.70,148.40 L110.35,151.64 M112.70,148.40 L108.90,147.16 " fill="none" stroke="#000" stroke-width="1.6" stroke-linecap="butt"/>
<text transform="translate(116.80,150.26) scale(0.917,0.794)" font-family='"Liberation Mono", monospace' font-size="20.0" font-weight="bold">=</text>
<text transform="translate(127.36,149.70) scale(0.806,0.805)" font-family='"Liberation Mono", monospace' font-size="20.0" font-weight="bold" stroke="#fff" stroke-width="0.07">1</text>
<text transform="translate(137.69,151.81) scale(0.820,0.974)" font-family='"Liberation Mono", monospace' font-size="20.0" font-weight="bold">/</text>
<text transform="translate(147.66,149.70) scale(0.806,0.805)" font-family='"Liberation Mono", monospace' font-size="20.0" font-weight="bold" stroke="#fff" stroke-width="0.07">1</text>
<text transform="translate(157.80,149.74) scale(0.849,0.810)" font-family='"Liberation Mono", monospace' font-size="20.0" font-weight="bold" stroke="#fff" stroke-width="0.12">O</text>
<text transform="translate(168.89,229.40) scale(1.035,1)" font-family='"Liberation Serif", serif' font-size="18.89">η</text>
<path d="M184.50,228.20 L184.50,224.20 M184.50,228.20 L188.30,226.96 M184.50,228.20 L186.85,231.44 M184.50,228.20 L182.15,231.44 M184.50,228.20 L180.70,226.96 " fill="none" stroke="#000" stroke-width="1.6" stroke-linecap="butt"/>
<text transform="translate(188.60,230.06) scale(0.917,0.794)" font-family='"Liberation Mono", monospace' font-size="20.0" font-weight="bold">=</text>
<text transform="translate(199.16,229.50) scale(0.806,0.805)" font-family='"Liberation Mono", monospace' font-size="20.0" font-weight="bold" stroke="#fff" stroke-width="0.07">1</text>
<text transform="translate(279.39,266.30) scale(1.035,1)" font-family='"Liberation Serif", serif' font-size="18.89">η</text>
<path d="M295.00,265.10 L295.00,261.10 M295.00,265.10 L298.80,263.86 M295.00,265.10 L297.35,268.34 M295.00,265.10 L292.65,268.34 M295.00,265.10 L291.20,263.86 " fill="none" stroke="#000" stroke-width="1.6" stroke-linecap="butt"/>
<text transform="translate(299.10,266.96) scale(0.917,0.794)" font-family='"Liberation Mono", monospace' font-size="20.0" font-weight="bold">=</text>
<text transform="translate(309.66,266.40) scale(0.806,0.805)" font-family='"Liberation Mono", monospace' font-size="20.0" font-weight="bold" stroke="#fff" stroke-width="0.07">1</text>
<text transform="translate(319.80,266.44) scale(0.849,0.810)" font-family='"Liberation Mono", monospace' font-size="20.0" font-weight="bold" stroke="#fff" stroke-width="0.12">O</text>
<text transform="translate(747.89,94.90) scale(1.035,1)" font-family='"Liberation Serif", serif' font-size="18.89">η</text>
<path d="M763.50,96.00 L763.50,92.00 M763.50,96.00 L767.30,94.76 M763.50,96.00 L765.85,99.24 M763.50,96.00 L761.15,99.24 M763.50,96.00 L759.70,94.76 " fill="none" stroke="#000" stroke-width="1.6" stroke-linecap="butt"/>
<text transform="translate(767.60,95.56) scale(0.917,0.794)" font-family='"Liberation Mono", monospace' font-size="20.0" font-weight="bold">=</text>
<text transform="translate(778.16,95.00) scale(0.806,0.805)" font-family='"Liberation Mono", monospace' font-size="20.0" font-weight="bold" stroke="#fff" stroke-width="0.07">1</text>
<text transform="translate(788.30,95.04) scale(0.849,0.810)" font-family='"Liberation Mono", monospace' font-size="20.0" font-weight="bold" stroke="#fff" stroke-width="0.12">O</text>
<text transform="translate(750.79,140.00) scale(1.035,1)" font-family='"Liberation Serif", serif' font-size="18.89">η</text>
<path d="M766.40,142.30 L766.40,138.30 M766.40,142.30 L770.20,141.06 M766.40,142.30 L768.75,145.54 M766.40,142.30 L764.05,145.54 M766.40,142.30 L762.60,141.06 " fill="none" stroke="#000" stroke-width="1.6" stroke-linecap="butt"/>
<text transform="translate(770.50,140.66) scale(0.917,0.794)" font-family='"Liberation Mono", monospace' font-size="20.0" font-weight="bold">=</text>
<text transform="translate(781.06,140.10) scale(0.806,0.805)" font-family='"Liberation Mono", monospace' font-size="20.0" font-weight="bold" stroke="#fff" stroke-width="0.07">1</text>
<text transform="translate(736.19,178.30) scale(1.035,1)" font-family='"Liberation Serif", serif' font-size="18.89">η</text>
<path d="M751.80,180.60 L751.80,176.60 M751.80,180.60 L755.60,179.36 M751.80,180.60 L754.15,183.84 M751.80,180.60 L749.45,183.84 M751.80,180.60 L748.00,179.36 " fill="none" stroke="#000" stroke-width="1.6" stroke-linecap="butt"/>
<text transform="translate(755.90,178.96) scale(0.917,0.794)" font-family='"Liberation Mono", monospace' font-size="20.0" font-weight="bold">=</text>
<text transform="translate(766.46,178.40) scale(0.806,0.805)" font-family='"Liberation Mono", monospace' font-size="20.0" font-weight="bold" stroke="#fff" stroke-width="0.07">1</text>
<text transform="translate(776.79,180.51) scale(0.820,0.974)" font-family='"Liberation Mono", monospace' font-size="20.0" font-weight="bold">/</text>
<text transform="translate(786.76,178.40) scale(0.806,0.805)" font-family='"Liberation Mono", monospace' font-size="20.0" font-weight="bold" stroke="#fff" stroke-width="0.07">1</text>
<text transform="translate(796.90,178.44) scale(0.849,0.810)" font-family='"Liberation Mono", monospace' font-size="20.0" font-weight="bold" stroke="#fff" stroke-width="0.12">O</text>
<clipPath id="cl"><rect x="45.5" y="47.5" width="357.5" height="271.0"/></clipPath>
<clipPath id="cr"><rect x="456.6" y="48.0" width="357.69999999999993" height="270.0"/></clipPath>
<line x1="34.30" y1="124.30" x2="403.00" y2="124.30" stroke="#000" stroke-width="1.8" stroke-dasharray="14.9 12.5" clip-path="url(#cl)"/>
<path d="M76.50,94.30 L77.52,93.08 L78.58,91.90 L79.67,90.78 L80.80,89.70 L81.95,88.68 L83.13,87.72 L84.34,86.80 L85.58,85.94 L86.84,85.14 L88.13,84.39 L89.44,83.70 L90.77,83.06 L92.12,82.49 L93.49,81.98 L94.87,81.52 L96.28,81.13 L97.69,80.80 L99.12,80.53 L100.57,80.30 L102.02,80.13 L103.49,80.00 L104.96,79.91 L106.44,79.87 L107.93,79.86 L109.42,79.88 L110.92,79.93 L112.41,80.00 L113.91,80.10 L115.41,80.21 L116.91,80.34 L118.40,80.49 L119.89,80.65 L121.38,80.82 L122.87,81.00 L124.36,81.20 L125.85,81.41 L127.33,81.63 L128.81,81.86 L130.29,82.10 L131.77,82.35 L133.25,82.61 L134.73,82.88 L136.20,83.16 L137.67,83.45 L139.15,83.74 L140.62,84.04 L142.09,84.35 L143.56,84.67 L145.03,85.00 L146.50,85.33 L147.96,85.66 L149.43,86.00 L150.90,86.35 L152.36,86.70 L153.82,87.05 L155.29,87.41 L156.75,87.77 L158.22,88.13 L159.68,88.50 L161.14,88.87 L162.60,89.24 L164.06,89.61 L165.53,89.98 L166.99,90.35 L168.45,90.72 L169.91,91.09 L171.37,91.46 L172.84,91.83 L174.30,92.19 L175.76,92.56 L177.23,92.92 L178.69,93.28 L180.15,93.63 L181.62,93.98 L183.08,94.33 L184.55,94.67 L186.02,95.01 L187.48,95.34 L188.95,95.67 L190.42,95.99 L191.89,96.31 L193.36,96.63 L194.83,96.93 L196.30,97.24 L197.77,97.54 L199.25,97.83 L200.72,98.12 L202.19,98.41 L203.67,98.69 L205.14,98.97 L206.62,99.24 L208.10,99.51 L209.57,99.77 L211.05,100.03 L212.53,100.29 L214.01,100.54 L215.49,100.78 L216.97,101.03 L218.45,101.26 L219.93,101.50 L221.41,101.73 L222.89,101.96 L224.37,102.18 L225.86,102.40 L227.34,102.61 L228.83,102.82 L230.31,103.03 L231.79,103.23 L233.28,103.43 L234.77,103.63 L236.25,103.82 L237.74,104.01 L239.23,104.19 L240.71,104.37 L242.20,104.55 L243.69,104.73 L245.18,104.90 L246.67,105.06 L248.16,105.23 L249.65,105.39 L251.14,105.55 L252.63,105.70 L254.12,105.85 L255.62,106.00 L257.11,106.14 L258.60,106.29 L260.09,106.42 L261.59,106.56 L263.08,106.69 L264.57,106.82 L266.07,106.95 L267.56,107.07 L269.06,107.19 L270.55,107.31 L272.05,107.43 L273.54,107.54 L275.04,107.65 L276.54,107.76 L278.03,107.86 L279.53,107.96 L281.03,108.06 L282.52,108.16 L284.02,108.25 L285.52,108.34 L287.02,108.43 L288.52,108.52 L290.01,108.61 L291.51,108.69 L293.01,108.77 L294.51,108.85 L296.01,108.92 L297.51,109.00 L299.01,109.07 L300.51,109.14 L302.01,109.21 L303.51,109.27 L305.01,109.34 L306.51,109.40 L308.01,109.46 L309.51,109.52 L311.01,109.57 L312.51,109.63 L314.01,109.68 L315.51,109.73 L317.02,109.78 L318.52,109.83 L320.02,109.87 L321.52,109.92 L323.02,109.96 L324.52,110.00 L326.02,110.03 L327.53,110.07 L329.03,110.10 L330.53,110.13 L332.03,110.16 L333.53,110.19 L335.03,110.21 L336.54,110.23 L338.04,110.25 L339.54,110.27 L341.04,110.28 L342.54,110.29 L344.04,110.30 L345.54,110.30 L347.05,110.30 L348.55,110.30 L350.05,110.29 L351.55,110.28 L353.05,110.27 L354.55,110.25 L356.05,110.23 L357.55,110.21 L359.06,110.18 L360.56,110.15 L362.06,110.12 L363.56,110.08 L365.06,110.04 L366.56,109.99 L368.06,109.94 L369.56,109.89 L371.06,109.83 L372.56,109.77 L374.06,109.70 L375.55,109.63 L377.05,109.55 L378.55,109.47 L380.05,109.39 L381.55,109.30 L383.05,109.20 L384.55,109.10 L386.04,109.00 L387.54,108.89 L389.04,108.77 L390.53,108.65 L392.03,108.53 L393.53,108.40 L395.02,108.26 L396.52,108.12 L398.02,107.97 L399.51,107.82 L401.01,107.66 L402.50,107.50" fill="none" stroke="#000" stroke-width="2.0" />
<path d="M218.10,87.30 L219.53,87.72 L220.97,88.14 L222.40,88.57 L223.84,88.99 L225.28,89.40 L226.73,89.82 L228.17,90.23 L229.62,90.64 L231.07,91.05 L232.52,91.46 L233.98,91.86 L235.43,92.26 L236.89,92.66 L238.35,93.05 L239.81,93.44 L241.27,93.83 L242.73,94.21 L244.20,94.58 L245.67,94.96 L247.14,95.32 L248.61,95.69 L250.08,96.04 L251.55,96.39 L253.03,96.74 L254.51,97.08 L255.99,97.41 L257.47,97.74 L258.95,98.06 L260.43,98.37 L261.91,98.67 L263.40,98.97 L264.88,99.26 L266.37,99.55 L267.86,99.82 L269.35,100.09 L270.84,100.35 L272.33,100.61 L273.83,100.85 L275.32,101.09 L276.82,101.32 L278.31,101.55 L279.81,101.77 L281.31,101.98 L282.81,102.18 L284.30,102.38 L285.81,102.57 L287.31,102.76 L288.81,102.93 L290.31,103.10 L291.81,103.27 L293.32,103.42 L294.82,103.58 L296.33,103.72 L297.83,103.86 L299.34,103.99 L300.84,104.12 L302.35,104.24 L303.86,104.35 L305.36,104.46 L306.87,104.56 L308.38,104.66 L309.89,104.75 L311.40,104.83 L312.90,104.91 L314.41,104.99 L315.92,105.05 L317.43,105.11 L318.94,105.17 L320.45,105.22 L321.96,105.26 L323.47,105.30 L324.98,105.33 L326.49,105.35 L327.99,105.37 L329.50,105.39 L331.01,105.39 L332.52,105.39 L334.03,105.38 L335.53,105.37 L337.04,105.35 L338.55,105.32 L340.05,105.29 L341.56,105.25 L343.06,105.20 L344.57,105.15 L346.07,105.09 L347.58,105.02 L349.08,104.95 L350.58,104.87 L352.08,104.78 L353.58,104.68 L355.08,104.58 L356.58,104.47 L358.08,104.35 L359.58,104.23 L361.08,104.09 L362.57,103.95 L364.07,103.81 L365.56,103.65 L367.06,103.48 L368.55,103.31 L370.04,103.12 L371.53,102.93 L373.02,102.72 L374.50,102.51 L375.99,102.28 L377.48,102.05 L378.96,101.80 L380.44,101.54 L381.92,101.26 L383.40,100.98 L384.88,100.68 L386.36,100.37 L387.83,100.05 L389.31,99.71 L390.78,99.36 L392.25,98.99 L393.72,98.61 L395.19,98.22 L396.65,97.80 L398.12,97.38 L399.58,96.93 L401.04,96.48 L402.50,96.00" fill="none" stroke="#000" stroke-width="2.0" />
<path d="M45.50,129.90 L47.00,129.92 L48.50,129.94 L50.00,129.96 L51.51,129.97 L53.01,129.99 L54.51,130.00 L56.01,130.01 L57.51,130.03 L59.01,130.04 L60.51,130.05 L62.01,130.06 L63.52,130.06 L65.02,130.07 L66.52,130.08 L68.02,130.08 L69.52,130.09 L71.02,130.09 L72.52,130.09 L74.02,130.09 L75.52,130.09 L77.03,130.09 L78.53,130.09 L80.03,130.09 L81.53,130.09 L83.03,130.08 L84.53,130.08 L86.03,130.07 L87.53,130.06 L89.03,130.06 L90.53,130.05 L92.03,130.04 L93.54,130.03 L95.04,130.02 L96.54,130.01 L98.04,129.99 L99.54,129.98 L101.04,129.96 L102.54,129.95 L104.04,129.93 L105.54,129.92 L107.04,129.90 L108.54,129.88 L110.04,129.86 L111.54,129.84 L113.04,129.82 L114.54,129.80 L116.04,129.77 L117.55,129.75 L119.05,129.73 L120.55,129.70 L122.05,129.68 L123.55,129.65 L125.05,129.62 L126.55,129.60 L128.05,129.57 L129.55,129.54 L131.05,129.51 L132.55,129.48 L134.05,129.45 L135.55,129.42 L137.05,129.38 L138.55,129.35 L140.05,129.32 L141.55,129.28 L143.05,129.25 L144.55,129.21 L146.05,129.17 L147.55,129.14 L149.05,129.10 L150.55,129.06 L152.05,129.02 L153.55,128.98 L155.05,128.94 L156.55,128.90 L158.05,128.86 L159.55,128.82 L161.05,128.78 L162.55,128.73 L164.05,128.69 L165.55,128.65 L167.05,128.60 L168.55,128.56 L170.05,128.51 L171.55,128.47 L173.05,128.42 L174.55,128.37 L176.05,128.32 L177.55,128.28 L179.05,128.23 L180.55,128.18 L182.05,128.13 L183.55,128.08 L185.05,128.03 L186.55,127.98 L188.05,127.92 L189.55,127.87 L191.05,127.82 L192.55,127.77 L194.05,127.71 L195.55,127.66 L197.05,127.61 L198.55,127.55 L200.05,127.50 L201.55,127.44 L203.05,127.38 L204.55,127.33 L206.05,127.27 L207.55,127.22 L209.05,127.16 L210.55,127.10 L212.05,127.04 L213.55,126.98 L215.05,126.93 L216.55,126.87 L218.05,126.81 L219.55,126.75 L221.05,126.69 L222.55,126.63 L224.05,126.57 L225.55,126.51 L227.05,126.45 L228.55,126.38 L230.05,126.32 L231.55,126.26 L233.04,126.20 L234.54,126.14 L236.04,126.07 L237.54,126.01 L239.04,125.95 L240.54,125.88 L242.04,125.82 L243.54,125.76 L245.04,125.69 L246.54,125.63 L248.04,125.56 L249.54,125.50 L251.04,125.43 L252.54,125.37 L254.04,125.30 L255.54,125.24 L257.04,125.17 L258.54,125.11 L260.04,125.04 L261.54,124.98 L263.04,124.91 L264.54,124.84 L266.04,124.78 L267.54,124.71 L269.03,124.65 L270.53,124.58 L272.03,124.51 L273.53,124.45 L275.03,124.38 L276.53,124.31 L278.03,124.25 L279.53,124.18 L281.03,124.11 L282.53,124.04 L284.03,123.98 L285.53,123.91 L287.03,123.84 L288.53,123.78 L290.03,123.71 L291.53,123.64 L293.03,123.57 L294.53,123.51 L296.03,123.44 L297.53,123.37 L299.02,123.30 L300.52,123.24 L302.02,123.17 L303.52,123.10 L305.02,123.04 L306.52,122.97 L308.02,122.90 L309.52,122.84 L311.02,122.77 L312.52,122.70 L314.02,122.64 L315.52,122.57 L317.02,122.50 L318.52,122.44 L320.02,122.37 L321.52,122.30 L323.02,122.24 L324.52,122.17 L326.02,122.11 L327.52,122.04 L329.02,121.98 L330.52,121.91 L332.01,121.85 L333.51,121.78 L335.01,121.72 L336.51,121.65 L338.01,121.59 L339.51,121.52 L341.01,121.46 L342.51,121.40 L344.01,121.33 L345.51,121.27 L347.01,121.21 L348.51,121.14 L350.01,121.08 L351.51,121.02 L353.01,120.96 L354.51,120.90 L356.01,120.83 L357.51,120.77 L359.01,120.71 L360.51,120.65 L362.01,120.59 L363.51,120.53 L365.01,120.47 L366.51,120.41 L368.01,120.35 L369.50,120.30 L371.00,120.24 L372.50,120.18 L374.00,120.12 L375.50,120.06 L377.00,120.01 L378.50,119.95 L380.00,119.89 L381.50,119.84 L383.00,119.78 L384.50,119.73 L386.00,119.67 L387.50,119.62 L389.00,119.57 L390.50,119.51 L392.00,119.46 L393.50,119.41 L395.00,119.35 L396.50,119.30 L398.00,119.25 L399.50,119.20 L401.00,119.15 L402.50,119.10" fill="none" stroke="#000" stroke-width="2.0" />
<path d="M45.50,132.00 L47.00,132.02 L48.51,132.04 L50.01,132.07 L51.51,132.09 L53.02,132.11 L54.52,132.14 L56.03,132.17 L57.53,132.19 L59.03,132.22 L60.54,132.25 L62.04,132.28 L63.54,132.31 L65.05,132.34 L66.55,132.37 L68.05,132.40 L69.56,132.43 L71.06,132.46 L72.57,132.49 L74.07,132.53 L75.57,132.56 L77.08,132.60 L78.58,132.63 L80.08,132.67 L81.59,132.70 L83.09,132.74 L84.59,132.77 L86.10,132.81 L87.60,132.84 L89.10,132.88 L90.61,132.92 L92.11,132.95 L93.61,132.99 L95.12,133.03 L96.62,133.07 L98.12,133.10 L99.62,133.14 L101.13,133.18 L102.63,133.22 L104.13,133.25 L105.64,133.29 L107.14,133.33 L108.64,133.37 L110.15,133.40 L111.65,133.44 L113.15,133.48 L114.65,133.51 L116.16,133.55 L117.66,133.59 L119.16,133.62 L120.67,133.66 L122.17,133.69 L123.67,133.73 L125.17,133.76 L126.68,133.80 L128.18,133.83 L129.68,133.86 L131.18,133.90 L132.69,133.93 L134.19,133.96 L135.69,133.99 L137.19,134.02 L138.70,134.05 L140.20,134.08 L141.70,134.11 L143.20,134.14 L144.71,134.16 L146.21,134.19 L147.71,134.22 L149.21,134.24 L150.71,134.27 L152.22,134.29 L153.72,134.31 L155.22,134.34 L156.72,134.36 L158.23,134.38 L159.73,134.40 L161.23,134.41 L162.73,134.43 L164.23,134.45 L165.74,134.46 L167.24,134.48 L168.74,134.49 L170.24,134.50 L171.74,134.51 L173.24,134.52 L174.75,134.53 L176.25,134.54 L177.75,134.54 L179.25,134.55 L180.75,134.55 L182.25,134.55 L183.76,134.55 L185.26,134.55 L186.76,134.55 L188.26,134.55 L189.76,134.54 L191.26,134.54 L192.76,134.53 L194.26,134.52 L195.77,134.51 L197.27,134.50 L198.77,134.48 L200.27,134.47 L201.77,134.45 L203.27,134.43 L204.77,134.41 L206.27,134.39 L207.77,134.37 L209.28,134.34 L210.78,134.31 L212.28,134.28 L213.78,134.25 L215.28,134.22 L216.78,134.18 L218.28,134.15 L219.78,134.11 L221.28,134.07 L222.78,134.03 L224.28,133.98 L225.78,133.94 L227.28,133.89 L228.78,133.84 L230.28,133.78 L231.78,133.73 L233.28,133.67 L234.78,133.61 L236.28,133.55 L237.78,133.49 L239.28,133.42 L240.78,133.35 L242.28,133.28 L243.78,133.21 L245.28,133.14 L246.78,133.06 L248.28,132.98 L249.78,132.90 L251.28,132.81 L252.78,132.72 L254.28,132.64 L255.78,132.54 L257.28,132.45 L258.78,132.35 L260.28,132.25 L261.78,132.15 L263.28,132.05 L264.78,131.95 L266.28,131.84 L267.78,131.73 L269.28,131.62 L270.78,131.51 L272.28,131.39 L273.77,131.28 L275.27,131.16 L276.77,131.04 L278.27,130.92 L279.77,130.80 L281.27,130.67 L282.77,130.54 L284.27,130.42 L285.77,130.29 L287.26,130.16 L288.76,130.03 L290.26,129.89 L291.76,129.76 L293.26,129.62 L294.76,129.49 L296.25,129.35 L297.75,129.21 L299.25,129.07 L300.75,128.93 L302.25,128.79 L303.75,128.64 L305.24,128.50 L306.74,128.35 L308.24,128.21 L309.74,128.06 L311.24,127.91 L312.73,127.77 L314.23,127.62 L315.73,127.47 L317.23,127.32 L318.72,127.17 L320.22,127.02 L321.72,126.87 L323.22,126.72 L324.71,126.57 L326.21,126.41 L327.71,126.26 L329.21,126.11 L330.70,125.96 L332.20,125.80 L333.70,125.65 L335.19,125.50 L336.69,125.35 L338.19,125.19 L339.68,125.04 L341.18,124.89 L342.68,124.74 L344.18,124.58 L345.67,124.43 L347.17,124.28 L348.66,124.13 L350.16,123.98 L351.66,123.83 L353.15,123.68 L354.65,123.53 L356.15,123.38 L357.64,123.23 L359.14,123.09 L360.63,122.94 L362.13,122.79 L363.63,122.65 L365.12,122.50 L366.62,122.36 L368.11,122.22 L369.61,122.08 L371.11,121.94 L372.60,121.80 L374.10,121.66 L375.59,121.52 L377.09,121.39 L378.58,121.25 L380.08,121.12 L381.57,120.99 L383.07,120.86 L384.56,120.73 L386.06,120.60 L387.55,120.47 L389.05,120.35 L390.54,120.22 L392.04,120.10 L393.53,119.98 L395.03,119.86 L396.52,119.75 L398.02,119.63 L399.51,119.52 L401.01,119.41 L402.50,119.30" fill="none" stroke="#000" stroke-width="1.8" stroke-dasharray="3.6 1.1" />
<path d="M76.80,314.00 L78.81,314.05 L80.82,314.02 L82.83,313.92 L84.84,313.75 L86.85,313.52 L88.86,313.22 L90.87,312.86 L92.88,312.43 L94.89,311.95 L96.90,311.42 L98.92,310.83 L100.93,310.19 L102.94,309.51 L104.95,308.77 L106.96,307.99 L108.97,307.17 L110.98,306.30 L112.99,305.39 L115.00,304.45 L117.01,303.47 L119.02,302.45 L121.03,301.41 L123.04,300.32 L125.05,299.21 L127.06,298.07 L129.07,296.90 L131.08,295.71 L133.09,294.49 L135.10,293.25 L137.11,291.98 L139.13,290.69 L141.14,289.38 L143.15,288.06 L145.16,286.71 L147.17,285.35 L149.18,283.97 L151.19,282.57 L153.20,281.16 L155.21,279.74 L157.22,278.30 L159.23,276.85 L161.24,275.39 L163.25,273.92 L165.26,272.44 L167.27,270.96 L169.28,269.46 L171.29,267.96 L173.30,266.44 L175.31,264.93 L177.32,263.40 L179.34,261.87 L181.35,260.34 L183.36,258.80 L185.37,257.26 L187.38,255.71 L189.39,254.17 L191.40,252.62 L193.41,251.06 L195.42,249.51 L197.43,247.95 L199.44,246.40 L201.45,244.84 L203.46,243.28 L205.47,241.72 L207.48,240.16 L209.49,238.61 L211.50,237.05 L213.51,235.50 L215.52,233.94 L217.53,232.39 L219.55,230.84 L221.56,229.29 L223.57,227.74 L225.58,226.20 L227.59,224.66 L229.60,223.12 L231.61,221.58 L233.62,220.05 L235.63,218.51 L237.64,216.99 L239.65,215.46 L241.66,213.94 L243.67,212.42 L245.68,210.91 L247.69,209.40 L249.70,207.89 L251.71,206.39 L253.72,204.89 L255.73,203.40 L257.74,201.91 L259.75,200.42 L261.77,198.94 L263.78,197.46 L265.79,195.98 L267.80,194.51 L269.81,193.05 L271.82,191.59 L273.83,190.13 L275.84,188.68 L277.85,187.23 L279.86,185.79 L281.87,184.35 L283.88,182.92 L285.89,181.49 L287.90,180.07 L289.91,178.65 L291.92,177.24 L293.93,175.83 L295.94,174.42 L297.95,173.02 L299.96,171.63 L301.98,170.24 L303.99,168.85 L306.00,167.47 L308.01,166.10 L310.02,164.73 L312.03,163.37 L314.04,162.01 L316.05,160.65 L318.06,159.30 L320.07,157.96 L322.08,156.62 L324.09,155.29 L326.10,153.96 L328.11,152.64 L330.12,151.32 L332.13,150.01 L334.14,148.70 L336.15,147.40 L338.16,146.10 L340.17,144.81 L342.19,143.53 L344.20,142.25 L346.21,140.98 L348.22,139.71 L350.23,138.44 L352.24,137.19 L354.25,135.94 L356.26,134.69 L358.27,133.45 L360.28,132.21 L362.29,130.98 L364.30,129.76 L366.31,128.54 L368.32,127.33 L370.33,126.12 L372.34,124.92 L374.35,123.72 L376.36,122.53 L378.37,121.35 L380.38,120.17 L382.40,118.99 L384.41,117.82 L386.42,116.66 L388.43,115.50 L390.44,114.35 L392.45,113.20 L394.46,112.06 L396.47,110.92 L398.48,109.78 L400.49,108.65 L402.50,107.53" fill="none" stroke="#000" stroke-width="1.8" stroke-dasharray="3.6 1.1" />
<path d="M242.20,316.52 L244.20,312.96 L246.21,309.42 L248.21,305.91 L250.21,302.42 L252.22,298.96 L254.22,295.51 L256.23,292.09 L258.23,288.69 L260.23,285.32 L262.24,281.97 L264.24,278.63 L266.25,275.32 L268.25,272.04 L270.25,268.77 L272.26,265.53 L274.26,262.30 L276.26,259.10 L278.27,255.92 L280.27,252.77 L282.27,249.63 L284.28,246.51 L286.28,243.42 L288.29,240.34 L290.29,237.29 L292.29,234.26 L294.30,231.24 L296.30,228.25 L298.31,225.28 L300.31,222.33 L302.31,219.40 L304.32,216.48 L306.32,213.59 L308.32,210.72 L310.33,207.87 L312.33,205.04 L314.33,202.22 L316.34,199.43 L318.34,196.65 L320.35,193.90 L322.35,191.16 L324.35,188.44 L326.36,185.74 L328.36,183.06 L330.37,180.40 L332.37,177.76 L334.37,175.13 L336.38,172.53 L338.38,169.94 L340.38,167.37 L342.39,164.81 L344.39,162.28 L346.39,159.76 L348.40,157.26 L350.40,154.78 L352.41,152.32 L354.41,149.87 L356.41,147.44 L358.42,145.02 L360.42,142.63 L362.43,140.25 L364.43,137.89 L366.43,135.54 L368.44,133.21 L370.44,130.90 L372.44,128.60 L374.45,126.32 L376.45,124.05 L378.45,121.80 L380.46,119.57 L382.46,117.35 L384.47,115.15 L386.47,112.97 L388.47,110.79 L390.48,108.64 L392.48,106.50 L394.49,104.37 L396.49,102.26 L398.49,100.17 L400.50,98.09 L402.50,96.02" fill="none" stroke="#000" stroke-width="1.8" stroke-dasharray="3.6 1.1" />
<line x1="444.40" y1="197.80" x2="814.30" y2="197.80" stroke="#000" stroke-width="1.8" stroke-dasharray="14.9 12.42" clip-path="url(#cr)"/>
<path d="M456.60,115.60 L457.74,114.56 L458.97,113.74 L460.27,113.09 L461.62,112.55 L463.01,112.10 L464.42,111.68 L465.85,111.29 L467.30,110.92 L468.75,110.56 L470.23,110.23 L471.71,109.90 L473.19,109.59 L474.69,109.29 L476.19,109.00 L477.69,108.71 L479.19,108.41 L480.68,108.12 L482.18,107.83 L483.67,107.53 L485.16,107.23 L486.65,106.93 L488.13,106.62 L489.61,106.31 L491.09,106.00 L492.57,105.69 L494.04,105.38 L495.52,105.06 L496.99,104.74 L498.46,104.42 L499.93,104.09 L501.39,103.77 L502.86,103.44 L504.32,103.11 L505.79,102.78 L507.25,102.45 L508.71,102.12 L510.17,101.78 L511.63,101.44 L513.09,101.10 L514.55,100.76 L516.01,100.42 L517.46,100.08 L518.92,99.74 L520.38,99.39 L521.84,99.05 L523.30,98.70 L524.76,98.36 L526.22,98.01 L527.68,97.66 L529.14,97.31 L530.60,96.96 L532.07,96.61 L533.53,96.26 L535.00,95.91 L536.47,95.56 L537.93,95.21 L539.40,94.86 L540.88,94.50 L542.35,94.15 L543.82,93.80 L545.29,93.44 L546.77,93.08 L548.24,92.72 L549.72,92.35 L551.19,91.99 L552.66,91.62 L554.14,91.24 L555.61,90.87 L557.08,90.48 L558.55,90.10 L560.02,89.71 L561.48,89.31 L562.95,88.91 L564.41,88.51 L565.87,88.10 L567.33,87.68 L568.79,87.26 L570.24,86.83 L571.70,86.39 L573.14,85.95 L574.59,85.50 L576.03,85.04 L577.47,84.58 L578.91,84.10 L580.34,83.62 L581.76,83.13 L583.19,82.63 L584.60,82.12 L586.02,81.60 L587.43,81.07 L588.83,80.53 L590.23,79.98 L591.62,79.42 L593.01,78.85 L594.39,78.27 L595.77,77.67 L597.14,77.07 L598.50,76.45 L599.86,75.82 L601.21,75.18 L602.56,74.52 L603.89,73.85 L605.22,73.17 L606.55,72.48 L607.86,71.77 L609.17,71.04 L610.47,70.30 L611.76,69.55 L613.04,68.78 L614.32,68.00 L615.58,67.20 L616.84,66.38 L618.09,65.55 L619.33,64.70 L620.56,63.84 L621.78,62.96 L622.99,62.06 L624.19,61.14 L625.38,60.20 L626.56,59.25 L627.73,58.28 L628.89,57.29 L630.04,56.28 L631.17,55.25 L632.30,54.20 L633.8,95 L634.5,140 L634.8,300" fill="none" stroke="#000" stroke-width="2.0" stroke-linejoin="miter"/>
<path d="M634.9,300 L635.4,140 L636.2,95 L637.5,55.0 637.50,55.00 L638.55,56.10 L639.63,57.18 L640.73,58.22 L641.84,59.24 L642.98,60.24 L644.13,61.20 L645.30,62.14 L646.49,63.06 L647.69,63.96 L648.91,64.83 L650.14,65.68 L651.39,66.51 L652.64,67.33 L653.91,68.12 L655.19,68.89 L656.48,69.65 L657.78,70.39 L659.09,71.12 L660.41,71.83 L661.73,72.52 L663.06,73.21 L664.39,73.88 L665.73,74.54 L667.08,75.19 L668.43,75.82 L669.78,76.44 L671.14,77.06 L672.51,77.66 L673.88,78.25 L675.25,78.83 L676.63,79.40 L678.01,79.96 L679.40,80.51 L680.79,81.05 L682.19,81.58 L683.59,82.10 L684.99,82.61 L686.40,83.12 L687.81,83.61 L689.23,84.10 L690.64,84.58 L692.06,85.06 L693.49,85.52 L694.92,85.98 L696.34,86.43 L697.78,86.88 L699.21,87.32 L700.65,87.76 L702.09,88.19 L703.53,88.61 L704.98,89.03 L706.42,89.44 L707.87,89.85 L709.32,90.26 L710.77,90.66 L712.23,91.06 L713.68,91.45 L715.14,91.84 L716.59,92.23 L718.05,92.61 L719.51,92.99 L720.97,93.38 L722.43,93.75 L723.89,94.13 L725.35,94.51 L726.81,94.88 L728.27,95.25 L729.74,95.62 L731.20,95.99 L732.66,96.36 L734.13,96.73 L735.59,97.09 L737.05,97.46 L738.52,97.82 L739.98,98.18 L741.44,98.54 L742.91,98.89 L744.37,99.25 L745.84,99.60 L747.30,99.95 L748.76,100.29 L750.23,100.64 L751.69,100.98 L753.16,101.32 L754.62,101.65 L756.09,101.99 L757.55,102.32 L759.02,102.65 L760.48,102.97 L761.95,103.29 L763.41,103.61 L764.88,103.93 L766.34,104.24 L767.80,104.55 L769.27,104.85 L770.73,105.16 L772.20,105.46 L773.66,105.75 L775.12,106.05 L776.59,106.34 L778.05,106.63 L779.51,106.92 L780.98,107.20 L782.44,107.49 L783.90,107.77 L785.36,108.05 L786.83,108.33 L788.29,108.61 L789.75,108.88 L791.21,109.16 L792.67,109.43 L794.13,109.70 L795.59,109.98 L797.05,110.27 L798.50,110.56 L799.95,110.87 L801.40,111.20 L802.85,111.55 L804.29,111.92 L805.72,112.33 L807.15,112.77 L808.58,113.24 L810.00,113.76 L811.41,114.32 L812.81,114.94 L814.20,115.60" fill="none" stroke="#000" stroke-width="2.0" stroke-linejoin="miter"/>
<path d="M634.95,301.30 L635.13,299.80 L635.30,298.30 L635.47,296.80 L635.62,295.30 L635.77,293.80 L635.91,292.30 L636.04,290.80 L636.17,289.31 L636.29,287.81 L636.40,286.31 L636.51,284.81 L636.61,283.31 L636.71,281.82 L636.80,280.32 L636.89,278.82 L636.97,277.33 L637.06,275.83 L637.14,274.33 L637.21,272.84 L637.29,271.34 L637.36,269.84 L637.43,268.35 L637.50,266.85 L637.58,265.36 L637.65,263.86 L637.72,262.37 L637.79,260.87 L637.86,259.38 L637.94,257.89 L638.02,256.39 L638.10,254.90 L638.18,253.41 L638.26,251.91 L638.35,250.42 L638.45,248.93 L638.54,247.43 L638.65,245.94 L638.76,244.45 L638.87,242.96 L638.99,241.47 L639.12,239.98 L639.26,238.48 L639.40,236.99 L639.55,235.50 L639.71,234.01 L639.88,232.52 L640.06,231.03 L640.26,229.54 L640.46,228.05 L640.67,226.57 L640.90,225.08 L641.14,223.59 L641.39,222.10 L641.65,220.61 L641.93,219.13 L642.22,217.65 L642.53,216.16 L642.85,214.69 L643.18,213.21 L643.53,211.74 L643.89,210.27 L644.27,208.80 L644.67,207.34 L645.07,205.89 L645.50,204.44 L645.94,203.00 L646.40,201.56 L646.87,200.13 L647.36,198.70 L647.87,197.29 L648.40,195.88 L648.94,194.47 L649.50,193.08 L650.08,191.70 L650.67,190.32 L651.29,188.96 L651.92,187.60 L652.58,186.26 L653.25,184.92 L653.94,183.60 L654.65,182.29 L655.39,180.99 L656.14,179.70 L656.91,178.43 L657.71,177.17 L658.52,175.92 L659.36,174.68 L660.21,173.46 L661.09,172.26 L662.00,171.07 L662.92,169.90 L663.87,168.74 L664.84,167.59 L665.83,166.47 L666.84,165.36 L667.88,164.27 L668.95,163.20 L670.03,162.14 L671.14,161.11 L672.27,160.09 L673.43,159.11 L674.60,158.14 L675.80,157.21 L677.01,156.30 L678.24,155.42 L679.50,154.57 L680.77,153.75 L682.05,152.97 L683.36,152.22 L684.68,151.52 L686.01,150.85 L687.36,150.22 L688.72,149.63 L690.10,149.09 L691.49,148.59 L692.89,148.13 L694.30,147.73 L695.73,147.38 L697.16,147.07 L698.60,146.82 L700.06,146.63 L701.52,146.48 L702.99,146.37 L704.46,146.30 L705.95,146.26 L707.44,146.24 L708.93,146.24 L710.43,146.24 L711.94,146.26 L713.45,146.28 L714.96,146.31 L716.48,146.34 L718.00,146.37 L719.53,146.41 L721.05,146.45 L722.58,146.50 L724.11,146.55 L725.63,146.60 L727.16,146.65 L728.69,146.70 L730.22,146.75 L731.74,146.80 L733.27,146.84 L734.79,146.89 L736.31,146.94 L737.82,146.98 L739.34,147.02 L740.85,147.06 L742.36,147.10 L743.87,147.14 L745.37,147.18 L746.88,147.21 L748.38,147.25 L749.88,147.28 L751.38,147.32 L752.88,147.35 L754.38,147.38 L755.87,147.41 L757.37,147.45 L758.86,147.48 L760.36,147.51 L761.85,147.54 L763.34,147.57 L764.83,147.60 L766.32,147.63 L767.81,147.67 L769.30,147.70 L770.79,147.73 L772.28,147.76 L773.76,147.80 L775.25,147.83 L776.74,147.87 L778.23,147.90 L779.72,147.94 L781.21,147.98 L782.70,148.02 L784.19,148.06 L785.68,148.10 L787.17,148.15 L788.66,148.19 L790.15,148.24 L791.64,148.29 L793.14,148.34 L794.63,148.39 L796.13,148.45 L797.63,148.51 L799.12,148.57 L800.62,148.63 L802.13,148.69 L803.63,148.76 L805.13,148.83 L806.64,148.90 L808.15,148.97 L809.66,149.05 L811.17,149.13 L812.68,149.21 L814.20,149.30" fill="none" stroke="#000" stroke-width="2.0" stroke-linecap="round"/>
<path d="M456.60,149.40 L458.11,149.32 L459.62,149.25 L461.13,149.18 L462.64,149.11 L464.15,149.05 L465.65,148.99 L467.16,148.93 L468.66,148.87 L470.16,148.82 L471.66,148.77 L473.16,148.72 L474.66,148.67 L476.16,148.63 L477.66,148.58 L479.16,148.54 L480.65,148.50 L482.15,148.47 L483.64,148.43 L485.14,148.39 L486.63,148.36 L488.13,148.33 L489.62,148.30 L491.12,148.26 L492.61,148.23 L494.10,148.20 L495.60,148.17 L497.09,148.14 L498.58,148.12 L500.08,148.09 L501.57,148.06 L503.07,148.03 L504.56,148.00 L506.05,147.97 L507.55,147.94 L509.05,147.91 L510.54,147.87 L512.04,147.84 L513.54,147.81 L515.04,147.77 L516.54,147.73 L518.04,147.70 L519.54,147.66 L521.04,147.61 L522.54,147.57 L524.05,147.53 L525.55,147.48 L527.06,147.43 L528.57,147.38 L530.08,147.32 L531.59,147.27 L533.10,147.21 L534.61,147.14 L536.13,147.08 L537.65,147.01 L539.17,146.94 L540.69,146.87 L542.21,146.79 L543.73,146.71 L545.26,146.62 L546.79,146.53 L548.32,146.45 L549.85,146.36 L551.37,146.28 L552.90,146.21 L554.43,146.14 L555.95,146.09 L557.47,146.05 L558.99,146.04 L560.50,146.04 L562.01,146.06 L563.51,146.11 L565.00,146.19 L566.49,146.29 L567.96,146.43 L569.43,146.61 L570.89,146.82 L572.34,147.07 L573.78,147.37 L575.21,147.71 L576.62,148.09 L578.02,148.53 L579.41,149.02 L580.78,149.55 L582.14,150.13 L583.48,150.76 L584.81,151.42 L586.12,152.13 L587.42,152.87 L588.70,153.65 L589.96,154.46 L591.20,155.30 L592.43,156.17 L593.64,157.07 L594.83,158.00 L596.01,158.96 L597.16,159.94 L598.29,160.95 L599.41,161.99 L600.50,163.04 L601.57,164.12 L602.62,165.22 L603.65,166.33 L604.66,167.47 L605.64,168.62 L606.60,169.79 L607.54,170.98 L608.45,172.18 L609.34,173.39 L610.21,174.62 L611.06,175.86 L611.88,177.11 L612.68,178.37 L613.46,179.65 L614.22,180.94 L614.95,182.24 L615.67,183.55 L616.36,184.87 L617.04,186.21 L617.69,187.55 L618.32,188.90 L618.94,190.27 L619.53,191.64 L620.11,193.02 L620.67,194.41 L621.21,195.81 L621.73,197.21 L622.24,198.63 L622.72,200.05 L623.19,201.47 L623.65,202.91 L624.09,204.35 L624.51,205.79 L624.91,207.25 L625.30,208.70 L625.68,210.16 L626.04,211.63 L626.38,213.10 L626.71,214.57 L627.03,216.05 L627.33,217.53 L627.62,219.01 L627.90,220.50 L628.16,221.99 L628.42,223.48 L628.65,224.97 L628.88,226.46 L629.10,227.96 L629.30,229.45 L629.50,230.95 L629.68,232.44 L629.85,233.93 L630.02,235.43 L630.17,236.92 L630.32,238.42 L630.45,239.91 L630.58,241.41 L630.71,242.90 L630.82,244.40 L630.93,245.89 L631.03,247.39 L631.13,248.88 L631.23,250.38 L631.32,251.87 L631.40,253.37 L631.48,254.86 L631.56,256.36 L631.64,257.86 L631.72,259.35 L631.79,260.85 L631.86,262.34 L631.94,263.84 L632.01,265.34 L632.08,266.83 L632.16,268.33 L632.23,269.83 L632.31,271.32 L632.39,272.82 L632.47,274.32 L632.56,275.82 L632.64,277.31 L632.73,278.81 L632.83,280.31 L632.93,281.81 L633.03,283.31 L633.14,284.80 L633.25,286.30 L633.36,287.80 L633.48,289.30 L633.61,290.80 L633.74,292.30 L633.88,293.80 L634.02,295.30 L634.17,296.80 L634.32,298.30 L634.48,299.80 L634.65,301.30" fill="none" stroke="#000" stroke-width="2.0" stroke-linecap="round"/>
<path d="M635.30,218.20 L636.58,217.01 L637.89,216.12 L639.21,215.45 L640.56,214.91 L641.91,214.44 L643.28,214.01 L644.67,213.62 L646.07,213.26 L647.47,212.93 L648.89,212.62 L650.32,212.33 L651.75,212.06 L653.19,211.79 L654.63,211.52 L656.08,211.25 L657.52,210.97 L658.97,210.67 L660.42,210.36 L661.87,210.02 L663.32,209.67 L664.77,209.30 L666.21,208.92 L667.66,208.52 L669.11,208.11 L670.56,207.68 L672.00,207.25 L673.45,206.80 L674.90,206.34 L676.35,205.88 L677.79,205.41 L679.24,204.94 L680.69,204.46 L682.14,203.97 L683.59,203.49 L685.04,203.00 L686.49,202.51 L687.94,202.03 L689.39,201.55 L690.84,201.07 L692.30,200.60 L693.75,200.13 L695.21,199.67 L696.66,199.21 L698.12,198.77 L699.58,198.33 L701.04,197.90 L702.50,197.48 L703.96,197.07 L705.42,196.67 L706.89,196.27 L708.35,195.89 L709.82,195.51 L711.29,195.13 L712.75,194.77 L714.22,194.41 L715.69,194.06 L717.16,193.71 L718.63,193.38 L720.10,193.04 L721.58,192.72 L723.05,192.40 L724.53,192.09 L726.00,191.78 L727.48,191.48 L728.96,191.19 L730.43,190.90 L731.91,190.62 L733.39,190.34 L734.87,190.07 L736.35,189.81 L737.84,189.54 L739.32,189.29 L740.80,189.04 L742.29,188.79 L743.77,188.55 L745.26,188.31 L746.74,188.08 L748.23,187.85 L749.72,187.62 L751.21,187.40 L752.70,187.19 L754.19,186.97 L755.68,186.76 L757.17,186.56 L758.66,186.35 L760.15,186.15 L761.65,185.96 L763.14,185.76 L764.63,185.57 L766.13,185.38 L767.62,185.20 L769.12,185.02 L770.62,184.83 L772.11,184.66 L773.61,184.48 L775.11,184.30 L776.61,184.13 L778.11,183.96 L779.61,183.79 L781.11,183.62 L782.61,183.45 L784.11,183.29 L785.61,183.12 L787.11,182.96 L788.61,182.79 L790.11,182.63 L791.62,182.47 L793.12,182.31 L794.62,182.14 L796.13,181.98 L797.63,181.82 L799.14,181.66 L800.64,181.49 L802.15,181.33 L803.65,181.17 L805.16,181.00 L806.67,180.84 L808.17,180.67 L809.68,180.51 L811.19,180.34 L812.69,180.17 L814.20,180.00" fill="none" stroke="#000" stroke-width="2.0" />
<path d="M456.60,180.00 L458.11,180.18 L459.62,180.35 L461.12,180.53 L462.63,180.71 L464.14,180.89 L465.64,181.07 L467.14,181.25 L468.65,181.43 L470.15,181.62 L471.65,181.80 L473.15,181.99 L474.65,182.18 L476.15,182.37 L477.65,182.56 L479.14,182.75 L480.64,182.95 L482.14,183.14 L483.63,183.34 L485.12,183.54 L486.62,183.74 L488.11,183.95 L489.60,184.15 L491.09,184.36 L492.58,184.57 L494.07,184.78 L495.56,184.99 L497.05,185.21 L498.53,185.42 L500.02,185.64 L501.51,185.86 L502.99,186.09 L504.48,186.31 L505.96,186.54 L507.45,186.77 L508.93,187.01 L510.41,187.25 L511.89,187.48 L513.37,187.73 L514.85,187.97 L516.33,188.22 L517.81,188.47 L519.29,188.72 L520.77,188.98 L522.25,189.24 L523.73,189.50 L525.20,189.76 L526.68,190.03 L528.16,190.30 L529.63,190.57 L531.11,190.85 L532.58,191.13 L534.05,191.42 L535.53,191.70 L537.00,192.00 L538.47,192.29 L539.95,192.59 L541.42,192.89 L542.89,193.20 L544.36,193.50 L545.83,193.82 L547.30,194.13 L548.77,194.45 L550.24,194.78 L551.71,195.11 L553.18,195.44 L554.65,195.77 L556.12,196.11 L557.59,196.46 L559.06,196.81 L560.53,197.16 L561.99,197.52 L563.46,197.88 L564.93,198.24 L566.40,198.62 L567.86,198.99 L569.33,199.37 L570.80,199.75 L572.26,200.14 L573.73,200.53 L575.19,200.93 L576.66,201.33 L578.13,201.74 L579.59,202.15 L581.06,202.57 L582.52,202.99 L583.99,203.42 L585.45,203.85 L586.92,204.29 L588.38,204.73 L589.85,205.17 L591.31,205.62 L592.78,206.06 L594.24,206.51 L595.70,206.95 L597.16,207.39 L598.62,207.83 L600.08,208.26 L601.53,208.69 L602.99,209.11 L604.44,209.52 L605.89,209.92 L607.34,210.32 L608.79,210.70 L610.23,211.06 L611.68,211.42 L613.12,211.76 L614.55,212.08 L615.99,212.39 L617.42,212.68 L618.85,212.95 L620.27,213.21 L621.69,213.44 L623.11,213.65 L624.52,213.84 L625.93,214.04 L627.34,214.28 L628.74,214.59 L630.14,215.00 L631.53,215.53 L632.87,216.22 L634.14,217.10 L635.30,218.20" fill="none" stroke="#000" stroke-width="2.0" />
</svg>
</body></html>
